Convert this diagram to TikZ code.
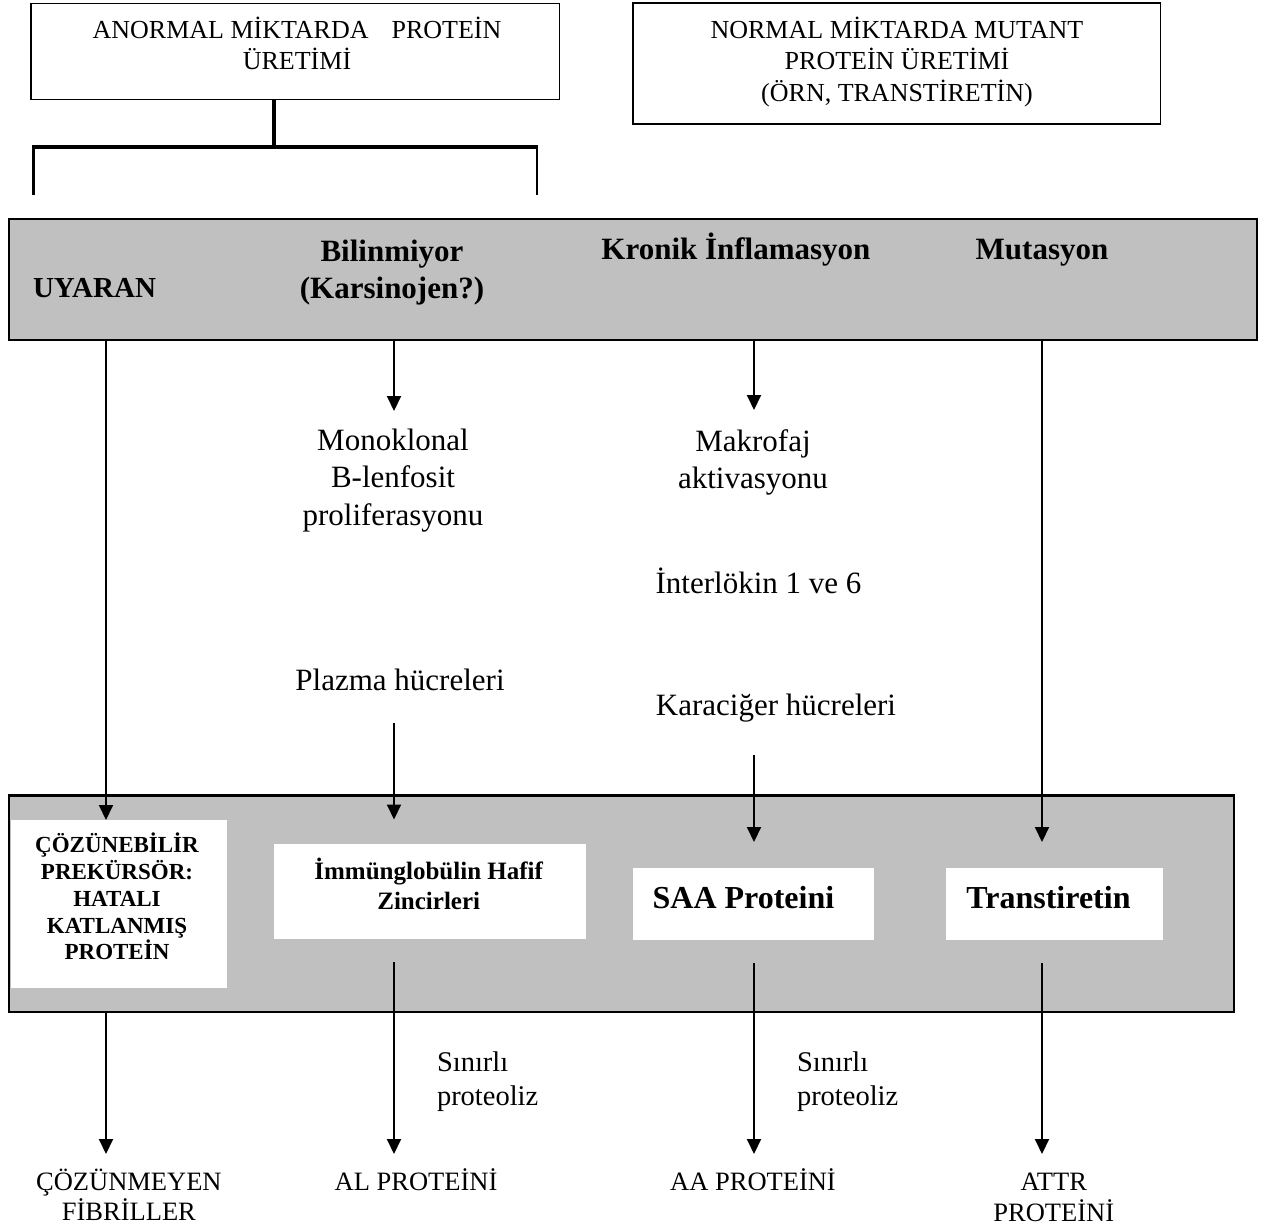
\documentclass[tikz,border=0pt]{standalone}
\usepackage{fontspec}
\setmainfont{Liberation Serif}
\usetikzlibrary{arrows.meta,calc}
\definecolor{bandgray}{HTML}{C0C0C0}
\begin{document}
\begin{tikzpicture}[x=1pt,y=-1pt,
  boxline/.style={draw, line width=1.5pt, fill=white, inner sep=0pt, outer sep=0pt},
  band/.style={draw, line width=2.2pt, fill=bandgray, inner sep=0pt, outer sep=0pt},
  wbox/.style={fill=white, inner sep=0pt, outer sep=0pt},
  lbl/.style={inner sep=0pt, outer sep=0pt, align=center},
  fnt/.style 2 args={font={\fontsize{#1}{#2}\selectfont}},
  bfnt/.style 2 args={font={\fontsize{#1}{#2}\selectfont\bfseries}},
  arr/.style={line width=2pt, -{Triangle[length=15pt,width=14pt]}}
]
\useasboundingbox (0,0) rectangle (1275,1228);

% column coordinates
\coordinate (cA) at (106,0);
\coordinate (cB) at (394,0);
\coordinate (cC) at (754,0);
\coordinate (cD) at (1042,0);
\coordinate (stem) at (273.5,0);
\coordinate (brL) at (33.5,147);
\coordinate (brR) at (537,147);
\coordinate (tipRow) at (0,1154);

% top boxes
\node[boxline, minimum width=528.5, minimum height=96] (box1) at (295.25,51.5) {};
\node[boxline, minimum width=527.5, minimum height=121] (box2) at (896.5,63.5) {};
\node[lbl, fnt={26}{31.5}] (t1) at (297,43.3) {ANORMAL MİKTARDA\hspace*{23pt}PROTEİN\\ÜRETİMİ};
\node[lbl, fnt={26}{31.5}] (t2) at (897,61.8) {NORMAL MİKTARDA MUTANT\\PROTEİN ÜRETİMİ\\(ÖRN, TRANSTİRETİN)};

% bracket
\draw[line width=4pt] (box1.south -| stem) -- (stem |- brL);
\draw[line width=3.5pt] ($(brL)+(-1.25,0)$) -- ($(brR)+(1.25,0)$);
\draw[line width=2.5pt] ($(brL)+(0,-1.75)$) -- ($(brL)+(0,48)$);
\draw[line width=2.5pt] ($(brR)+(0,-1.75)$) -- ($(brR)+(0,48)$);

% band 1
\node[band, minimum width=1248, minimum height=121] (band1) at (633,279.5) {};
\node[lbl, bfnt={29}{35}, anchor=west] (uyaran) at (33,288.3) {UYARAN};
\node[lbl, bfnt={31}{37}] (bilin) at (392,272.9) {Bilinmiyor\\(Karsinojen?)};
\node[lbl, bfnt={31}{37}] (kronik) at (736,250) {Kronik İnflamasyon};
\node[lbl, bfnt={31}{37}] (mutas) at (1042,252.4) {Mutasyon};

% middle texts
\node[lbl, fnt={31}{37.5}] (mono) at (393,480.3) {Monoklonal\\B-lenfosit\\proliferasyonu};
\node[lbl, fnt={31}{36.5}] (makro) at (753,462.3) {Makrofaj\\aktivasyonu};
\node[lbl, fnt={31}{36}] (inter) at (758.5,581) {İnterlökin 1 ve 6};
\node[lbl, fnt={31}{36}] (plazma) at (400,680) {Plazma hücreleri};
\node[lbl, fnt={31}{36}] (kara) at (776,707.7) {Karaciğer hücreleri};

% band 2
\node[band, minimum width=1225, minimum height=216.5] (band2) at (621.5,903.75) {};
\node[wbox, minimum width=215.5, minimum height=168] (cozbox) at (118.75,904) {};
\node[wbox, minimum width=312, minimum height=95] (immbox) at (430,891.5) {};
\node[wbox, minimum width=241.5, minimum height=72] (saabox) at (753.25,904) {};
\node[wbox, minimum width=216.7, minimum height=72] (trbox) at (1054.35,904) {};
\node[lbl, bfnt={23}{26.7}] (coz) at (117,896.6) {ÇÖZÜNEBİLİR\\PREKÜRSÖR:\\HATALI\\KATLANMIŞ\\PROTEİN};
\node[lbl, bfnt={25}{30}] (imm) at (428.7,883.6) {İmmünglobülin Hafif\\Zincirleri};
\node[lbl, bfnt={32}{38}, anchor=west] (saa) at (652.6,897.5) {SAA Proteini};
\node[lbl, bfnt={32}{38}, anchor=west] (trans) at (966.4,897.5) {Transtiretin};

% lower labels
\node[lbl, fnt={28.5}{33.5}, align=left, anchor=west] (sin1) at (437,1081.8) {Sınırlı\\proteoliz};
\node[lbl, fnt={28.5}{33.5}, align=left, anchor=west] (sin2) at (797,1081.8) {Sınırlı\\proteoliz};
\node[lbl, fnt={26.5}{30.5}] (cozm) at (128.9,1195) {ÇÖZÜNMEYEN\\FİBRİLLER};
\node[lbl, fnt={26.5}{30.5}] (al) at (416,1179.7) {AL PROTEİNİ};
\node[lbl, fnt={26.5}{30.5}] (aa) at (753,1179.7) {AA PROTEİNİ};
\node[lbl, fnt={26.5}{30.5}] (attr) at (1053.8,1197.2) {ATTR\\PROTEİNİ};

% arrows: upper
\draw[arr] (band1.south -| cA) -- (cozbox.north -| cA);
\draw[arr] (band1.south -| cB) -- ($(band1.south -| cB)+(0,71)$);
\draw[arr] (band1.south -| cC) -- ($(band1.south -| cC)+(0,70)$);
\draw[arr] (band1.south -| cD) -- ($(saabox.north -| cD)+(0,-26)$);
% arrows: middle
\draw[arr] ($(plazma.south -| cB)+(0,32)$) -- ($(immbox.north -| cB)+(0,-24.5)$);
\draw[arr] ($(kara.south -| cC)+(0,33)$) -- ($(saabox.north -| cC)+(0,-26)$);
% arrows: lower
\draw[arr] (band2.south -| cA) -- (cA |- tipRow);
\draw[arr] ($(immbox.south -| cB)+(0,23)$) -- (cB |- tipRow);
\draw[arr] ($(saabox.south -| cC)+(0,22.5)$) -- (cC |- tipRow);
\draw[arr] ($(trbox.south -| cD)+(0,22.5)$) -- (cD |- tipRow);
\end{tikzpicture}
\end{document}
